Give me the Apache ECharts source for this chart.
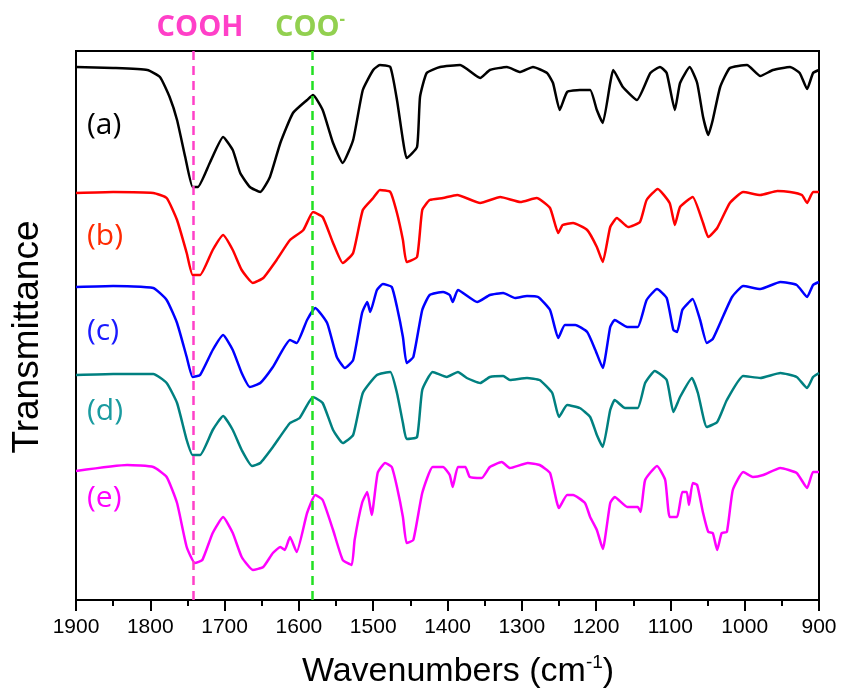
<!DOCTYPE html>
<html>
<head>
<meta charset="utf-8">
<script src="https://cdn.jsdelivr.net/npm/echarts@6/dist/echarts.min.js"></script>
<style>
  html, body { margin: 0; padding: 0; background: #fff; }
  #chart { width: 842px; height: 693px; }
</style>
</head>
<body>
<div id="chart"></div>
<script>
// spectra: [wavenumber, transmittance (arb., offset)]
const specA = [[1900,533],[1850,532],[1804,530],[1787,523],[1774,503],[1764,480],[1753,443],[1743,413],[1736,413],[1720,437],[1702,463],[1689,450],[1679,427],[1666,413],[1652,408],[1639,423],[1625,457],[1608,487],[1589,500],[1581,505],[1568,490],[1554,457],[1541,437],[1527,460],[1514,510],[1500,530],[1491,535],[1477,533],[1468,500],[1460,460],[1455,442],[1441,453],[1437,503],[1428,527],[1410,533],[1383,535],[1356,522],[1343,530],[1320,533],[1302,528],[1285,533],[1266,527],[1258,517],[1249,490],[1239,508],[1222,510],[1208,510],[1199,490],[1191,477],[1181,517],[1177,530],[1164,513],[1145,500],[1127,527],[1114,533],[1105,527],[1094,490],[1087,517],[1074,533],[1064,517],[1056,483],[1049,465],[1043,480],[1033,513],[1020,532],[997,535],[979,524],[962,530],[939,533],[926,527],[916,511],[908,527],[900,530]];
const specB = [[1900,407],[1850,408],[1796,407],[1778,402],[1764,380],[1751,347],[1743,325],[1733,325],[1716,350],[1702,365],[1689,350],[1677,330],[1662,317],[1648,322],[1630,340],[1612,360],[1594,370],[1581,388],[1568,383],[1554,357],[1541,337],[1527,347],[1514,390],[1500,402],[1491,410],[1477,408],[1468,387],[1460,360],[1455,338],[1441,343],[1434,390],[1424,400],[1406,402],[1387,405],[1356,397],[1329,403],[1302,398],[1280,402],[1262,392],[1251,367],[1245,375],[1231,377],[1212,370],[1199,353],[1191,338],[1181,373],[1172,382],[1157,373],[1141,378],[1132,400],[1117,411],[1101,397],[1094,375],[1087,393],[1070,403],[1056,377],[1049,363],[1037,372],[1020,397],[1002,408],[979,405],[956,409],[939,408],[923,405],[916,397],[908,408],[900,408]];
const specC = [[1900,313],[1850,314],[1796,312],[1778,300],[1764,277],[1751,243],[1743,223],[1733,225],[1716,250],[1702,265],[1689,250],[1677,227],[1666,213],[1652,217],[1635,233],[1612,260],[1603,257],[1589,280],[1578,292],[1562,277],[1549,243],[1538,232],[1527,240],[1515,287],[1508,298],[1504,288],[1495,310],[1487,316],[1475,313],[1468,293],[1460,263],[1455,237],[1446,243],[1434,290],[1424,305],[1406,308],[1397,305],[1393,298],[1386,310],[1360,298],[1343,305],[1325,307],[1309,302],[1293,304],[1278,303],[1262,290],[1251,262],[1242,275],[1228,275],[1212,268],[1201,250],[1191,232],[1181,273],[1175,280],[1158,273],[1144,273],[1132,300],[1118,311],[1105,302],[1096,270],[1091,268],[1084,290],[1076,297],[1070,301],[1060,280],[1051,257],[1043,261],[1033,277],[1017,303],[1002,314],[979,311],[952,318],[930,315],[916,303],[908,315],[900,318]];
const specD = [[1900,225],[1850,226],[1796,226],[1778,217],[1764,197],[1751,160],[1743,145],[1733,145],[1716,170],[1702,184],[1689,170],[1677,150],[1663,134],[1652,137],[1635,153],[1612,177],[1599,182],[1581,203],[1568,197],[1554,170],[1541,157],[1527,165],[1514,207],[1495,225],[1477,228],[1468,207],[1460,177],[1455,161],[1441,163],[1434,210],[1420,228],[1401,223],[1386,228],[1374,222],[1356,217],[1343,223],[1325,224],[1316,220],[1293,222],[1276,220],[1259,207],[1250,183],[1239,195],[1222,192],[1208,183],[1199,165],[1191,153],[1181,190],[1175,200],[1161,192],[1144,192],[1134,217],[1121,229],[1105,220],[1096,188],[1087,203],[1071,222],[1063,207],[1051,173],[1037,178],[1024,200],[1002,224],[979,222],[952,227],[930,223],[916,212],[908,223],[900,227]];
const specE = [[1900,129],[1831,135],[1796,133],[1778,123],[1764,97],[1751,53],[1740,37],[1730,40],[1716,67],[1702,83],[1689,67],[1677,43],[1662,30],[1648,33],[1635,47],[1625,53],[1619,50],[1612,63],[1603,48],[1589,87],[1578,105],[1568,100],[1554,70],[1541,40],[1529,35],[1525,60],[1515,97],[1508,108],[1502,85],[1494,127],[1484,137],[1475,133],[1468,113],[1460,83],[1455,57],[1446,60],[1434,107],[1420,133],[1406,133],[1397,125],[1393,113],[1386,133],[1376,133],[1370,123],[1354,122],[1343,133],[1327,138],[1316,132],[1292,137],[1276,135],[1262,127],[1250,92],[1239,105],[1231,105],[1215,97],[1208,83],[1199,70],[1191,51],[1181,97],[1175,103],[1158,93],[1144,93],[1140,88],[1134,120],[1118,134],[1107,120],[1101,83],[1091,83],[1084,108],[1078,108],[1075,95],[1070,117],[1064,115],[1056,87],[1049,68],[1043,67],[1037,50],[1031,67],[1024,68],[1016,110],[1002,128],[989,123],[975,125],[952,132],[930,127],[916,112],[908,128],[900,128]];

const spectra = [specA, specB, specC, specD, specE];
const curveNames = ["(a)", "(b)", "(c)", "(d)", "(e)"];
const curveColors = ["#000000", "#ff0000", "#0000ff", "#008080", "#ff00ff"];
const labelColors = ["#000000", "#ff2a00", "#1a1aff", "#1a9ba0", "#ff00ff"];
const markerWavenumbers = [1742, 1582];
const markerColors = ["#ff40c8", "#22e022"];

const chart = echarts.init(document.getElementById("chart"));

const series = spectra.map((d, i) => ({
  name: curveNames[i],
  type: "line",
  data: d,
  showSymbol: false,
  smooth: 0.15,
  lineStyle: { width: 2.5, color: curveColors[i] },
  z: 3
}));

// dashed reference lines
series.push({
  type: "line",
  data: [],
  z: 4,
  markLine: {
    silent: true,
    symbol: "none",
    label: { show: false },
    data: markerWavenumbers.map((w, i) => ({
      xAxis: w,
      lineStyle: { color: markerColors[i], type: [9, 6], width: 2.5 }
    }))
  }
});

// curve labels, pixel y centres
const labelY = [132, 243, 338, 418, 505];

const option = {
  animation: false,
  backgroundColor: "#fff",
  grid: {
    left: 76, right: 23, top: 51, bottom: 93,
    show: true, borderColor: "#000", borderWidth: 2
  },
  xAxis: {
    type: "value",
    inverse: true,
    min: 900, max: 1900, interval: 100,
    axisLine: { lineStyle: { color: "#000", width: 2 } },
    axisTick: { show: true, length: 11, lineStyle: { color: "#000", width: 2 } },
    minorTick: { show: true, splitNumber: 2, length: 6, lineStyle: { color: "#000", width: 2 } },
    splitLine: { show: false },
    axisLabel: {
      margin: 17,
      color: "#000",
      fontFamily: "Liberation Sans",
      fontSize: 21,
      formatter: v => String(v)
    }
  },
  yAxis: {
    type: "value",
    min: 0, max: 549,
    show: false
  },
  graphic: [
    ...curveNames.map((t, i) => ({
      type: "text",
      left: 87,
      top: labelY[i] - 22,
      style: { text: t, fill: labelColors[i], font: "30px 'Open Sans'" }
    })),
    {
      type: "text",
      x: 200, y: 28,
      style: {
        text: "COOH", fill: "#ff40c8",
        font: "bold 29px 'Open Sans'",
        align: "center", verticalAlign: "middle"
      }
    },
    {
      type: "text",
      x: 310, y: 28,
      style: {
        text: "{b|COO}{s|-}",
        align: "center", verticalAlign: "middle",
        rich: {
          b: { fill: "#92d050", font: "bold 29px 'Open Sans'" },
          s: { fill: "#92d050", font: "bold 17px 'Open Sans'", padding: [0, 0, 16, 0] }
        }
      }
    },
    {
      type: "text",
      x: 458, y: 672,
      style: {
        text: "{m|Wavenumbers (cm}{s|-1}{m|)}",
        align: "center", verticalAlign: "middle",
        rich: {
          m: { fill: "#000", font: "34px 'Liberation Sans'" },
          s: { fill: "#000", font: "19px 'Liberation Sans'", padding: [0, 0, 18, 0] }
        }
      }
    },
    {
      type: "text",
      x: 28, y: 337,
      rotation: Math.PI / 2,
      style: {
        text: "Transmittance", fill: "#000",
        font: "37px 'Liberation Sans'",
        align: "center", verticalAlign: "middle"
      }
    }
  ],
  series: series
};

chart.setOption(option);
</script>
</body>
</html>
